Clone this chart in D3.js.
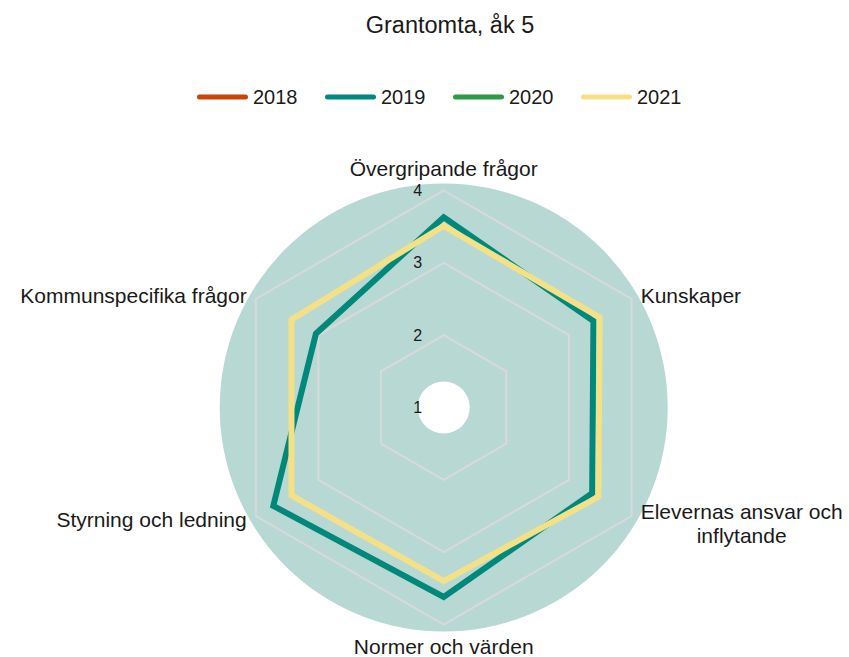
<!DOCTYPE html>
<html>
<head>
<meta charset="utf-8">
<script src="https://cdn.jsdelivr.net/npm/d3@7"></script>
<style>
  html, body { margin: 0; padding: 0; background: #ffffff; }
  svg { display: block; font-family: "Liberation Sans", Arial, sans-serif; }
</style>
</head>
<body>
<svg id="chart" width="849" height="657"></svg>
<script>
// ---- Data ----
const title = "Grantomta, åk 5";
const categories = [
  "Övergripande frågor",
  "Kunskaper",
  "Elevernas ansvar och inflytande",
  "Normer och värden",
  "Styrning och ledning",
  "Kommunspecifika frågor"
];
const seriesNames = ["2018", "2019", "2020", "2021"];
const values2018 = [null, null, null, null, null, null];
const values2019 = [3.63, 3.39, 3.37, 3.62, 3.72, 3.04];
const values2020 = [null, null, null, null, null, null];
const values2021 = [3.51, 3.49, 3.47, 3.40, 3.43, 3.43];
const tickValues = [1, 2, 3, 4];
const tickLabels = ["1", "2", "3", "4"];
const seriesColors = ["#c9440b", "#00897b", "#2e9a48", "#f4e086"];

const seriesValues = [values2018, values2019, values2020, values2021];

// ---- Layout ----
const svg = d3.select("#chart");
const cx = 443.7, cy = 407.5;
const rMax = 217;
const r = d3.scaleLinear().domain([1, 4]).range([0, rMax]);
const angle = d3.scalePoint().domain(d3.range(categories.length)).range([0, 2 * Math.PI * (categories.length - 1) / categories.length]);

const FONT = 21;

// Title
svg.append("text")
  .attr("x", 450).attr("y", 25)
  .attr("text-anchor", "middle").attr("dominant-baseline", "central")
  .attr("font-size", 23.5).attr("fill", "#1a1a1a")
  .text(title);

// Legend
const legendG = svg.append("g");
const capR = 2.5, lineLen = 51, textGap = 5, step = 128;
seriesNames.forEach((name, i) => {
  const g = legendG.append("g").attr("transform", `translate(${i * step},0)`);
  g.append("line").attr("x1", capR).attr("x2", lineLen - capR).attr("y1", 0).attr("y2", 0)
    .attr("stroke", seriesColors[i]).attr("stroke-width", 5).attr("stroke-linecap", "round");
  g.append("text").attr("x", lineLen + textGap).attr("y", 0)
    .attr("dominant-baseline", "central").attr("font-size", 20).attr("fill", "#1a1a1a").text(name);
});
legendG.attr("transform", `translate(197,97)`);

const plot = svg.append("g").attr("transform", `translate(${cx},${cy})`);

// Background disc and hole
plot.append("circle").attr("r", 224).attr("fill", "#b8d8d4");
plot.append("circle").attr("r", 26).attr("fill", "#ffffff");

// Grid hexagons
const gridLine = d3.lineRadial()
  .angle((d, i) => angle(i))
  .radius(d => d)
  .curve(d3.curveLinearClosed);
tickValues.filter(v => r(v) > 0).forEach(v => {
  plot.append("path")
    .attr("d", gridLine(categories.map(() => r(v))))
    .attr("fill", "none").attr("stroke", "#d9d9d9").attr("stroke-width", 2);
});

// Series
const seriesLine = d3.lineRadial()
  .angle((d, i) => angle(i))
  .radius(d => r(d))
  .curve(d3.curveLinearClosed);
seriesValues.forEach((vals, i) => {
  if (vals.some(v => v == null)) return;
  plot.append("path")
    .attr("d", seriesLine(vals))
    .attr("fill", "none")
    .attr("stroke", seriesColors[i])
    .attr("stroke-width", 6)
    .attr("stroke-linejoin", "miter");
});

// Tick labels
tickValues.forEach((v, i) => {
  plot.append("text")
    .attr("x", -26).attr("y", -r(v))
    .attr("text-anchor", "middle").attr("dominant-baseline", "central")
    .attr("font-size", 16).attr("fill", "#1a1a1a")
    .text(tickLabels[i]);
});

// Category labels
const wrapMap = { "Elevernas ansvar och inflytande": ["Elevernas ansvar och", "inflytande"] };
categories.forEach((c, i) => {
  const a = angle(i);
  const sx = Math.sin(a), sy = -Math.cos(a);
  const isVertical = Math.abs(sx) < 0.01;
  const R = isVertical ? 239 : 224;
  let x = R * sx, y = R * sy;
  const lines = wrapMap[c] || [c];
  const t = plot.append("text")
    .attr("font-size", FONT).attr("fill", "#1a1a1a");
  if (isVertical) {
    t.attr("text-anchor", "middle").attr("x", x).attr("y", y).attr("dominant-baseline", "central").text(c);
  } else {
    const pad = 3;
    const lh = 23.3;
    const y0 = y - (lines.length - 1) * lh / 2 + (lines.length > 1 ? 4 : 0);
    lines.forEach((ln, k) => {
      t.append("tspan").attr("y", y0 + k * lh).attr("dominant-baseline", "central").text(ln);
    });
    if (lines.length > 1) {
      let maxW = 0;
      t.selectAll("tspan").each(function () { maxW = Math.max(maxW, this.getComputedTextLength()); });
      const xc = sx > 0 ? x + pad + maxW / 2 : x - pad - maxW / 2;
      t.attr("text-anchor", "middle");
      t.selectAll("tspan").attr("x", xc);
    } else {
      t.attr("text-anchor", sx > 0 ? "start" : "end");
      t.selectAll("tspan").attr("x", sx > 0 ? x + pad : x - pad);
    }
  }
});
</script>
</body>
</html>
